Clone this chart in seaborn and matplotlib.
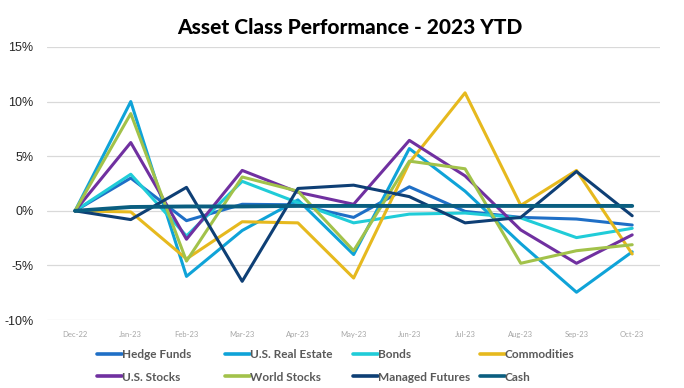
import matplotlib
matplotlib.use("Agg")
import matplotlib.pyplot as plt
import pandas as pd
import seaborn as sns
from matplotlib.ticker import FuncFormatter

months = ["Dec-22", "Jan-23", "Feb-23", "Mar-23", "Apr-23", "May-23",
          "Jun-23", "Jul-23", "Aug-23", "Sep-23", "Oct-23"]

hedge_funds = [0, 3.0, -0.9, 0.6, 0.55, -0.6, 2.2, -0.05, -0.6, -0.75, -1.3]
us_real_estate = [0, 10.0, -6.0, -1.8, 1.0, -4.0, 5.7, 1.8, -3.0, -7.45, -3.75]
bonds = [0, 3.35, -2.3, 2.7, 0.75, -1.1, -0.3, -0.2, -0.65, -2.45, -1.6]
commodities = [0, -0.1, -4.4, -1.0, -1.1, -6.15, 4.4, 10.8, 0.5, 3.7, -3.95]
us_stocks = [0, 6.25, -2.6, 3.7, 1.7, 0.6, 6.45, 3.2, -1.75, -4.8, -2.2]
world_stocks = [0, 8.9, -4.6, 3.1, 1.8, -3.65, 4.55, 3.85, -4.8, -3.65, -3.1]
managed_futures = [0, -0.8, 2.15, -6.45, 2.05, 2.35, 1.3, -1.1, -0.6, 3.6, -0.45]
cash = [0, 0.35, 0.4, 0.4, 0.45, 0.45, 0.45, 0.45, 0.45, 0.45, 0.45]

series = {
    "Hedge Funds": hedge_funds,
    "U.S. Real Estate": us_real_estate,
    "Bonds": bonds,
    "Commodities": commodities,
    "U.S. Stocks": us_stocks,
    "World Stocks": world_stocks,
    "Managed Futures": managed_futures,
    "Cash": cash,
}
colors = {
    "Hedge Funds": "#1F6FC6",
    "U.S. Real Estate": "#0FA3D8",
    "Bonds": "#20CCD8",
    "Commodities": "#E6B91E",
    "U.S. Stocks": "#7030A0",
    "World Stocks": "#A2C24A",
    "Managed Futures": "#0E3F75",
    "Cash": "#0A5E80",
}

rows = []
for name, vals in series.items():
    for i, v in enumerate(vals):
        rows.append({"Month": months[i], "idx": i, "Series": name, "Value": v})
df = pd.DataFrame(rows)

sns.set_style("white")
plt.rcParams["font.family"] = ["Lato", "DejaVu Sans"]

fig = plt.figure(figsize=(6.84, 3.88), dpi=100)
ax = fig.add_axes([0.069, 0.175, 0.896, 0.704])

sns.lineplot(data=df, x="idx", y="Value", hue="Series", palette=colors,
             hue_order=list(series.keys()), linewidth=2.2, sort=False,
             legend=False, ax=ax)
# cash is drawn a bit thicker
ax.lines[-1].set_linewidth(2.8)

ax.set_xlim(-0.5, len(months) - 0.5)
ax.set_ylim(-10, 15)
ax.set_yticks([-10, -5, 0, 5, 10, 15])
ax.yaxis.set_major_formatter(FuncFormatter(lambda v, p: f"{v:.0f}%"))
ax.set_xticks(range(len(months)))
ax.set_xticklabels(months)
ax.tick_params(axis="x", labelsize=5.5, labelcolor="#A6A6A6", length=0, pad=8)
ax.tick_params(axis="y", labelsize=9, labelcolor="#262626", length=0, pad=10)
for lab in ax.get_yticklabels():
    lab.set_family(["Liberation Sans", "DejaVu Sans"])
ax.grid(axis="y", color="#D9D9D9", linewidth=0.9)
ax.set_axisbelow(True)
ax.set_xlabel("")
ax.set_ylabel("")
for sp in ax.spines.values():
    sp.set_visible(False)

fig.text(0.512, 0.928, "Asset Class Performance - 2023 YTD", ha="center",
         va="center", fontsize=15, fontweight="black", color="black")

# legend: four fixed-width columns of two rows
names = list(series.keys())
col_x = [0.142, 0.329, 0.516, 0.702]
for c in range(4):
    pair = [names[c], names[c + 4]]
    handles = [plt.Line2D([], [], color=colors[n], linewidth=2.6) for n in pair]
    fig.legend(handles, pair, loc="upper left", bbox_to_anchor=(col_x[c], 0.101),
               frameon=False, handlelength=2.1, handletextpad=0.0,
               labelspacing=1.0, borderpad=0, borderaxespad=0,
               prop={"family": "Lato", "weight": "bold", "size": 8.5},
               labelcolor="#595959")

fig.savefig("out.png", dpi=100)
